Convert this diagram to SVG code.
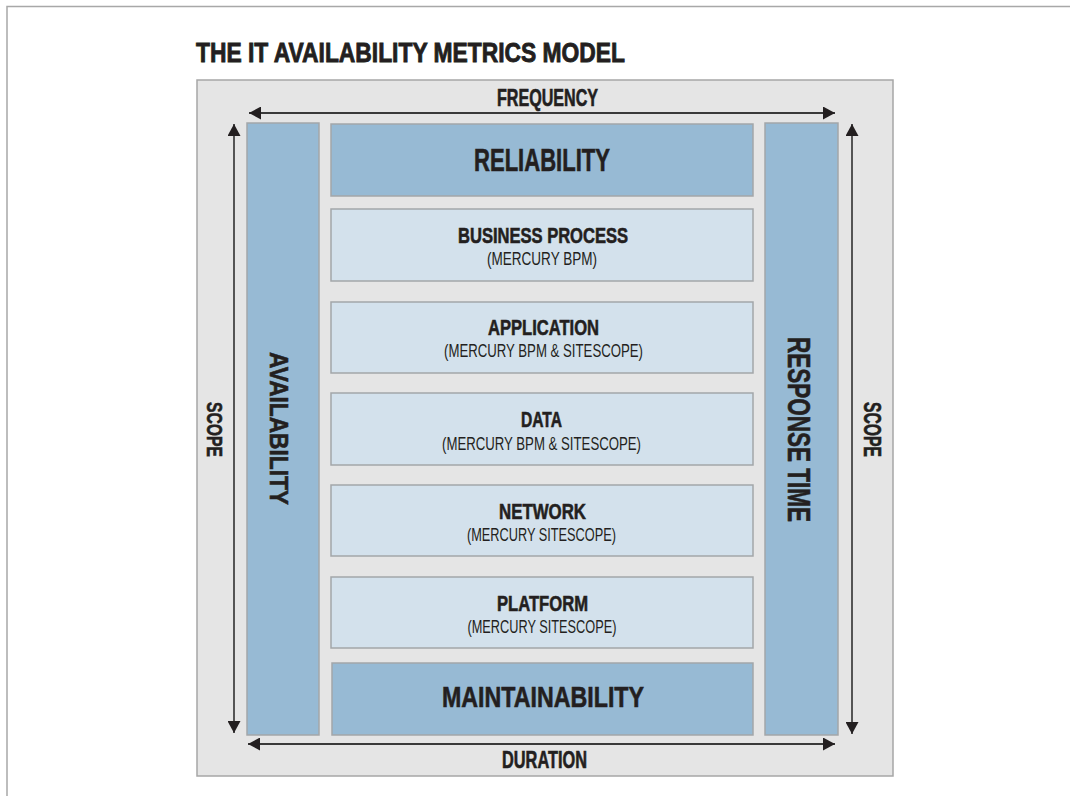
<svg xmlns="http://www.w3.org/2000/svg" width="1070" height="796" viewBox="0 0 1070 796">
<style>
  text { font-family: "Liberation Sans", Arial, sans-serif; fill: #231f20; }
  .b { font-weight: bold; stroke: #231f20; stroke-width: 0.6; }
  .sub { font-weight: normal; font-size: 18px; }
  .dark { fill: #97bad4; stroke: #a3a6a9; stroke-width: 1.5; }
  .light { fill: #d3e1ec; stroke: #a3a6a9; stroke-width: 1.5; }
  .arr { stroke: #3a3a3a; stroke-width: 2; fill: none; }
  .varr { stroke: #555555; stroke-width: 2; fill: none; }
</style>
<defs>
  <marker id="ah" viewBox="0 0 12 13" refX="12" refY="6.5" markerWidth="12" markerHeight="13" markerUnits="userSpaceOnUse" orient="auto-start-reverse">
    <path d="M0,0 L12,6.5 L0,13 z" fill="#231f20"/>
  </marker>
</defs>
<rect x="0" y="0" width="1070" height="796" fill="#ffffff"/>
<path d="M7,796 L7,6.5 L1070,6.5" fill="none" stroke="#a8a8a8" stroke-width="1.5"/>
<text class="b" x="196" y="62" font-size="28" textLength="429" lengthAdjust="spacingAndGlyphs" style="stroke-width:0.9">THE IT AVAILABILITY METRICS MODEL</text>
<rect id="frame" x="197" y="80" width="696" height="696" fill="#e5e5e5" stroke="#a6a6a6" stroke-width="1.5"/>

<g id="connectors">
  <line class="arr" x1="249" y1="113" x2="835" y2="113" marker-start="url(#ah)" marker-end="url(#ah)"/>
  <line class="arr" x1="248" y1="744" x2="835" y2="744" marker-start="url(#ah)" marker-end="url(#ah)"/>
  <line class="varr" x1="234" y1="124" x2="234" y2="733" marker-start="url(#ah)" marker-end="url(#ah)"/>
  <line class="varr" x1="852" y1="124" x2="852" y2="734" marker-start="url(#ah)" marker-end="url(#ah)"/>
  <text class="b" x="547.5" y="106" font-size="23" text-anchor="middle" textLength="101" lengthAdjust="spacingAndGlyphs">FREQUENCY</text>
  <text class="b" x="544.5" y="768" font-size="23" text-anchor="middle" textLength="85" lengthAdjust="spacingAndGlyphs">DURATION</text>
  <text class="b" transform="translate(207,429.5) rotate(90)" x="0" y="0" font-size="22" text-anchor="middle" textLength="55" lengthAdjust="spacingAndGlyphs">SCOPE</text>
  <text class="b" transform="translate(864,429.5) rotate(90)" x="0" y="0" font-size="23" text-anchor="middle" textLength="55" lengthAdjust="spacingAndGlyphs">SCOPE</text>
</g>

<g id="availability">
  <rect class="dark" x="247" y="123" width="72" height="612"/>
  <text class="b" transform="translate(270,428.5) rotate(90)" x="0" y="0" font-size="25" text-anchor="middle" textLength="153" lengthAdjust="spacingAndGlyphs">AVAILABILITY</text>
</g>
<g id="response-time">
  <rect class="dark" x="765" y="123" width="73" height="612"/>
  <text class="b" transform="translate(788,429.5) rotate(90)" x="0" y="0" font-size="32" text-anchor="middle" textLength="185" lengthAdjust="spacingAndGlyphs">RESPONSE TIME</text>
</g>
<g id="reliability">
  <rect class="dark" x="331" y="124" width="422" height="72"/>
  <text class="b" x="542" y="171" font-size="31" text-anchor="middle" textLength="136" lengthAdjust="spacingAndGlyphs">RELIABILITY</text>
</g>
<g id="business-process">
  <rect class="light" x="331" y="209" width="422" height="72"/>
  <text class="b" x="543" y="243" font-size="22" text-anchor="middle" textLength="170" lengthAdjust="spacingAndGlyphs">BUSINESS PROCESS</text>
  <text class="sub" x="542" y="265" text-anchor="middle" textLength="110" lengthAdjust="spacingAndGlyphs">(MERCURY BPM)</text>
</g>
<g id="application">
  <rect class="light" x="331" y="302" width="422" height="71"/>
  <text class="b" x="543.5" y="335" font-size="22" text-anchor="middle" textLength="111" lengthAdjust="spacingAndGlyphs">APPLICATION</text>
  <text class="sub" x="543.5" y="357" text-anchor="middle" textLength="199" lengthAdjust="spacingAndGlyphs">(MERCURY BPM &amp; SITESCOPE)</text>
</g>
<g id="data">
  <rect class="light" x="331" y="393" width="422" height="72"/>
  <text class="b" x="541.5" y="427" font-size="22" text-anchor="middle" textLength="41" lengthAdjust="spacingAndGlyphs">DATA</text>
  <text class="sub" x="541.5" y="450" text-anchor="middle" textLength="199" lengthAdjust="spacingAndGlyphs">(MERCURY BPM &amp; SITESCOPE)</text>
</g>
<g id="network">
  <rect class="light" x="331" y="485" width="422" height="71"/>
  <text class="b" x="542.5" y="519" font-size="22" text-anchor="middle" textLength="87" lengthAdjust="spacingAndGlyphs">NETWORK</text>
  <text class="sub" x="541.5" y="541" text-anchor="middle" textLength="149" lengthAdjust="spacingAndGlyphs">(MERCURY SITESCOPE)</text>
</g>
<g id="platform">
  <rect class="light" x="331" y="577" width="422" height="71"/>
  <text class="b" x="542.5" y="611" font-size="22" text-anchor="middle" textLength="91" lengthAdjust="spacingAndGlyphs">PLATFORM</text>
  <text class="sub" x="542" y="633" text-anchor="middle" textLength="149" lengthAdjust="spacingAndGlyphs">(MERCURY SITESCOPE)</text>
</g>
<g id="maintainability">
  <rect class="dark" x="332" y="663" width="421" height="72"/>
  <text class="b" x="543" y="707" font-size="30" text-anchor="middle" textLength="202" lengthAdjust="spacingAndGlyphs">MAINTAINABILITY</text>
</g>
</svg>
